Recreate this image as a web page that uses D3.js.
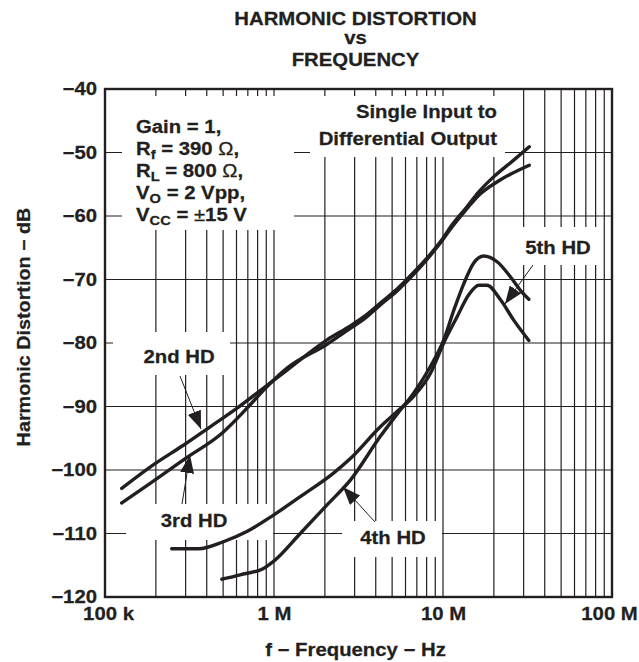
<!DOCTYPE html>
<html>
<head>
<meta charset="utf-8">
<script src="https://cdn.jsdelivr.net/npm/d3@7"></script>
<style>
  html, body { margin: 0; padding: 0; background: #fff; }
  svg { display: block; }
  text { font-family: "Liberation Sans", Arial, Helvetica, sans-serif; font-weight: bold;
         fill: #231f20; stroke: #231f20; stroke-width: 0.25; }
  .grid line { stroke: #231f20; stroke-width: 1.2; }
  .curve { fill: none; stroke: #231f20; stroke-width: 3.4; stroke-linejoin: round; stroke-linecap: round; }
  .lead { stroke: #231f20; stroke-width: 1; }
</style>
</head>
<body>
<div id="chart"></div>
<script>
(function () {
    "use strict";

    // ---- data ----------------------------------------------------
    const hd2Freq = [125.6e3, 193e3, 291e3, 419e3, 602e3, 867e3, 1.19e6, 2.06e6, 2.83e6, 3.39e6,
                     4.26e6, 5.35e6, 6.7e6, 8.42e6, 10e6, 11.1e6, 13.9e6, 15.9e6, 20e6, 26.2e6, 32.4e6];
    const hd2dB   = [-102.9, -99.2, -96.1, -93.2, -90.3, -87.1, -84.3, -79.5, -77.3, -75.9,
                     -73.7, -71.5, -68.9, -66.0, -63.5, -61.7, -58.5, -56.5, -53.8, -51.2, -49.1];

    const hd3Freq = [125.6e3, 185e3, 291e3, 502e3, 690e3, 907e3, 1.19e6, 2.06e6, 2.83e6, 3.39e6,
                     4.26e6, 5.35e6, 6.7e6, 8.42e6, 10e6, 11.1e6, 13.9e6, 15.9e6, 21.9e6, 32.4e6];
    const hd3dB   = [-105.2, -102.1, -98.4, -94.0, -90.3, -86.9, -84.0, -80.2, -77.7, -76.3,
                     -74.0, -71.8, -69.2, -66.2, -63.7, -62.0, -58.8, -57.0, -54.3, -52.0];

    const hd4Freq = [491e3, 631e3, 867e3, 993e3, 1.43e6, 2.06e6, 2.83e6, 4.26e6, 5.35e6, 6.7e6,
                     8.42e6, 10.1e6, 11.6e6, 13.3e6, 15.2e6, 17.4e6, 20.9e6, 25.1e6, 28.7e6, 32.2e6];
    const hd4dB   = [-117.2, -116.5, -115.5, -114.4, -110.0, -105.5, -101.6, -94.7, -91.2, -87.9,
                     -83.7, -79.5, -74.8, -70.6, -67.4, -66.3, -67.2, -69.6, -71.7, -73.1];

    const hd5Freq = [248e3, 357e3, 502e3, 691e3, 993e3, 1.43e6, 2.25e6, 2.83e6, 4.26e6, 5.35e6,
                     6.7e6, 8.42e6, 10.1e6, 12.1e6, 14.2e6, 16.3e6, 18.2e6, 21.9e6, 26.2e6, 32.2e6];
    const hd5dB   = [-112.4, -112.4, -111.3, -109.7, -107.1, -104.2, -100.5, -98.2, -93.2, -90.8,
                     -88.4, -84.8, -80.0, -75.9, -72.4, -70.9, -70.9, -73.2, -76.4, -79.6];

    const xTickValues = [1e5, 1e6, 1e7, 1e8];
    const xTickLabels = ["100 k", "1 M", "10 M", "100 M"];
    const yTickValues = [-120, -110, -100, -90, -80, -70, -60, -50, -40];

    // ---- layout ----------------------------------------------------
    const W = 639, H = 662;
    const M = { top: 89, right: 27, bottom: 65, left: 105 };
    const SX = 1.13;           // the datasheet lettering is set a little wide

    const svg = d3.select("#chart").append("svg")
        .attr("width", W).attr("height", H);

    const x = d3.scaleLog().domain([1e5, 1e8]).range([M.left, W - M.right]);
    const y = d3.scaleLinear().domain([-120, -40]).range([H - M.bottom, M.top]);

    function label(parent, px, py, str, anchor, size) {
        return parent.append("text")
            .attr("transform", `translate(${px},${py}) scale(${SX},1)`)
            .attr("text-anchor", anchor || "start")
            .style("font-size", (size || 18) + "px")
            .text(str);
    }

    // ---- grid --------------------------------------------------------
    const minorX = [];
    [1e5, 1e6, 1e7].forEach(d => { for (let k = 2; k <= 9; k++) minorX.push(d * k); });
    minorX.push(1e6, 1e7);

    const grid = svg.append("g").attr("class", "grid");
    grid.selectAll("line.v").data(minorX).join("line")
        .attr("class", "v")
        .attr("x1", d => x(d)).attr("x2", d => x(d))
        .attr("y1", y(-120)).attr("y2", y(-40));
    grid.selectAll("line.h").data(yTickValues.slice(1, -1)).join("line")
        .attr("class", "h")
        .attr("x1", x(1e5)).attr("x2", x(1e8))
        .attr("y1", d => y(d)).attr("y2", d => y(d));

    // white knock-outs behind the in-plot lettering
    const boxes = [
        [122, 96, 172, 134],   // test conditions
        [310, 96, 195, 61],    // Single Input to Differential Output
        [113, 332, 117, 43],   // 2nd HD
        [126, 504, 147, 36],   // 3rd HD
        [342, 521, 100, 36],   // 4th HD
        [515, 227, 85, 38]     // 5th HD
    ];
    svg.append("g").selectAll("rect").data(boxes).join("rect")
        .attr("x", d => d[0]).attr("y", d => d[1])
        .attr("width", d => d[2]).attr("height", d => d[3])
        .attr("fill", "#fff");

    // ---- curves ------------------------------------------------------
    const line = d3.line()
        .x(d => x(d[0])).y(d => y(d[1]))
        .curve(d3.curveMonotoneX);

    const series = [
        d3.zip(hd2Freq, hd2dB),
        d3.zip(hd3Freq, hd3dB),
        d3.zip(hd4Freq, hd4dB),
        d3.zip(hd5Freq, hd5dB)
    ];
    svg.append("g").selectAll("path").data(series).join("path")
        .attr("class", "curve")
        .attr("d", line);

    // ---- leaders with filled arrowheads --------------------------------
    svg.append("defs").append("marker")
        .attr("id", "head")
        .attr("viewBox", "0 0 18 14")
        .attr("refX", 18).attr("refY", 7)
        .attr("markerWidth", 18).attr("markerHeight", 14)
        .attr("markerUnits", "userSpaceOnUse")
        .attr("orient", "auto")
        .append("path").attr("d", "M0,0 L18,7 L0,14 Z").attr("fill", "#231f20");

    const leaders = [
        [180, 376, 201, 429],   // 2nd HD
        [182, 504, 190, 455],   // 3rd HD
        [375, 522, 343, 487],   // 4th HD
        [533, 265, 505, 304]    // 5th HD
    ];
    svg.append("g").selectAll("line").data(leaders).join("line")
        .attr("class", "lead")
        .attr("x1", d => d[0]).attr("y1", d => d[1])
        .attr("x2", d => d[2]).attr("y2", d => d[3])
        .attr("marker-end", "url(#head)");

    // ---- frame & axes ---------------------------------------------------
    svg.append("rect")
        .attr("x", x(1e5)).attr("y", y(-40))
        .attr("width", x(1e8) - x(1e5)).attr("height", y(-120) - y(-40))
        .attr("fill", "none").attr("stroke", "#231f20").attr("stroke-width", 2.4);

    const xAxis = svg.append("g")
        .attr("transform", `translate(0,${y(-120)})`)
        .call(d3.axisBottom(x).tickValues(xTickValues)
            .tickFormat((d, i) => xTickLabels[i]).tickSize(0).tickPadding(10));
    const yAxis = svg.append("g")
        .attr("transform", `translate(${x(1e5)},0)`)
        .call(d3.axisLeft(y).tickValues(yTickValues)
            .tickFormat(d => d < 0 ? "\u2212" + Math.abs(d) : d).tickSize(0).tickPadding(8));
    [xAxis, yAxis].forEach(a => {
        a.attr("font-family", null).attr("font-size", null);
        a.select(".domain").remove();
        a.selectAll("text")
            .attr("fill", null)
            .style("font-size", "18px")
            .attr("transform", `scale(${SX},1)`);
    });
    yAxis.selectAll("text").attr("x", -8 / SX);
    xAxis.selectAll("text").attr("x", (d, i) => i === 0 ? 3 / SX : (i === 3 ? -3 / SX : 0));

    // ---- titles -----------------------------------------------------------
    const cx = (x(1e5) + x(1e8)) / 2 - 3;
    label(svg, cx, 25, "HARMONIC DISTORTION", "middle", 18);
    label(svg, cx, 44, "vs", "middle", 18);
    label(svg, cx, 66, "FREQUENCY", "middle", 18);

    label(svg, cx, 656, "f \u2212 Frequency \u2212 Hz", "middle", 18);

    svg.append("text")
        .attr("transform", `translate(30,${(y(-40) + y(-120)) / 2 - 16}) rotate(-90) scale(${SX},1)`)
        .attr("text-anchor", "middle")
        .style("font-size", "17.5px")
        .text("Harmonic Distortion \u2212 dB");

    // ---- test conditions ----------------------------------------------------
    const cond = svg.append("g");
    const sub = (t, main, s, rest) => {
        t.append("tspan").text(main);
        t.append("tspan").attr("dy", 4).style("font-size", "13px").text(s);
        t.append("tspan").attr("dy", -4).text(rest);
    };
    label(cond, 136, 133, "Gain = 1,");
    const rf = label(cond, 136, 155, ""); sub(rf, "R", "f", " = 390 ");
    rf.append("tspan").style("font-weight", "normal").text("\u03a9");
    rf.append("tspan").text(",");
    const rl = label(cond, 136, 177, ""); sub(rl, "R", "L", " = 800 ");
    rl.append("tspan").style("font-weight", "normal").text("\u03a9");
    rl.append("tspan").text(",");
    const vo = label(cond, 136, 199, ""); sub(vo, "V", "O", " = 2 Vpp,");
    const vcc = label(cond, 136, 221, ""); sub(vcc, "V", "CC", " = ");
    vcc.append("tspan").style("font-weight", "normal").text("\u00b1");
    vcc.append("tspan").text("15 V");

    label(svg, 497, 118, "Single Input to", "end");
    label(svg, 497, 145, "Differential Output", "end");

    // ---- curve labels -------------------------------------------------------
    label(svg, 179, 363, "2nd HD", "middle");
    label(svg, 194, 527, "3rd HD", "middle");
    label(svg, 393, 544, "4th HD", "middle");
    label(svg, 558, 254, "5th HD", "middle");
})();
</script>
</body>
</html>
